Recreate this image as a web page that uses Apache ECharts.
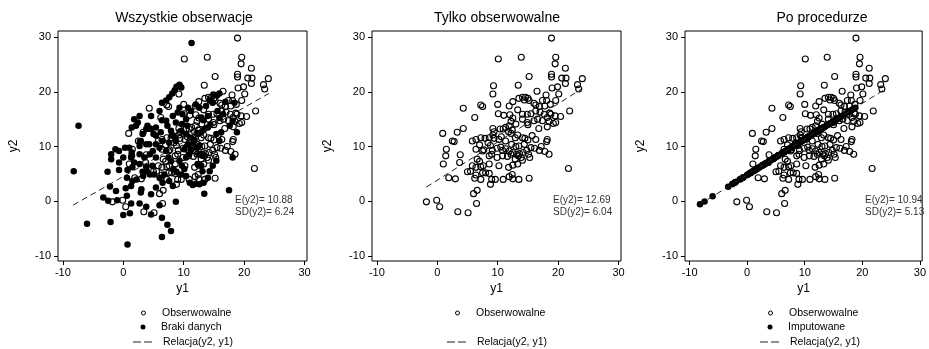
<!DOCTYPE html>
<html>
<head>
<meta charset="utf-8">
<script src="https://cdn.jsdelivr.net/npm/echarts@6/dist/echarts.min.js"></script>
<style>
  html, body { margin: 0; padding: 0; background: #fff; }
  #chart { width: 929px; height: 349px; }
</style>
</head>
<body>
<div id="chart"></div>
<script>
// tick labels
const xTicks = [-10, 0, 10, 20, 30]
const yTicks = [-10, 0, 10, 20, 30]

const titles = ['Wszystkie obserwacje', 'Tylko obserwowalne', 'Po procedurze']
const stats = [
  ['E(y2)= 10.88', 'SD(y2)= 6.24'],
  ['E(y2)= 12.69', 'SD(y2)= 6.04'],
  ['E(y2)= 10.94', 'SD(y2)= 5.13']
]

// obserwowalne (y1, y2)
const obsX = [18.9, 10.1, 13.9, 19.6, 19.5, 21.2, 15.2, 18.9, 18.9, 20.6, 21.3, 21.2, 24.0, 23.2, 23.4, 19.9, 19.0, 9.3, 13.4, 16.5,
  20.1, 18.0, 9.2, 12.5, 13.5, 14.1, 14.6, 15.0, 14.4, 15.2, 17.4, 18.1, 19.6, 17.8, 18.7, 10.0, 11.9, 16.9, 16.3, 7.5,
  7.2, 16.0, 4.3, 6.2, 10.1, 11.0, 13.3, 14.1, 14.9, 15.5, 16.3, 17.0, 17.7, 18.8, 18.2, 19.5, 20.4, 17.4, 19.6, 18.5,
  14.1, 14.9, 12.5, 12.2, 13.0, 11.9, 11.3, 16.0, 16.6, 18.2, 4.3, 15.0, 0.9, 3.3, 2.5, 2.8, 1.5, 1.4, 3.8, 3.7,
  1.0, 1.9, 3.0, 9.2, 9.4, 9.2, 10.4, 10.9, 11.8, 12.4, 12.2, 13.3, 12.9, 8.6, 9.4, 10.2, 7.9, 7.2, 5.8, 6.4,
  8.4, 11.3, 14.1, 14.5, 15.0, 15.7, 16.3, 14.4, 13.5, 15.5, 16.1, 18.2, 18.1, 17.2, 12.3, 13.0, 11.3, 9.9, 10.5, 8.8,
  7.7, 7.0, 6.4, 7.5, 9.1, 10.8, 11.9, 12.5, 13.1, 13.6, 14.2, 14.8, 16.9, 17.8, 6.6, 7.0, 5.8, 6.4, 7.2, 8.6,
  9.9, 9.0, 10.8, 11.6, 12.2, 12.9, 13.4, 13.9, 14.1, 15.1, 15.3, 13.3, 12.5, 11.8, 10.2, 8.6, 7.6, 8.6, 5.0, 5.5,
  6.4, 7.5, 8.0, 6.2, 7.2, 9.0, 9.6, 10.9, 11.9, 12.4, 12.5, 13.5, 15.2, 21.7, 8.8, 6.0, 6.6, -1.8, -0.1, 0.4,
  3.4, 5.1, 6.5, 18.5, 21.9, 18.6, 19.2, 16.8, 12.0, 10.6]
const obsY = [29.8, 26.0, 26.3, 26.3, 25.1, 24.3, 22.8, 23.2, 22.7, 22.5, 22.5, 21.5, 22.4, 21.3, 20.5, 20.9, 20.7, 21.1, 21.2, 20.1,
  19.6, 19.4, 19.6, 18.2, 18.8, 19.0, 19.0, 18.8, 18.5, 18.4, 18.4, 18.4, 18.4, 17.4, 17.7, 17.7, 17.4, 17.3, 17.6, 17.3,
  17.6, 17.9, 17.0, 15.3, 16.0, 15.7, 16.7, 15.9, 15.9, 16.0, 16.5, 16.3, 15.9, 15.9, 15.3, 15.6, 15.5, 14.7, 14.4, 14.6,
  15.0, 14.4, 15.2, 14.6, 14.1, 13.8, 13.5, 14.7, 15.0, 13.6, 13.3, 14.0, 12.4, 12.6, 11.0, 10.9, 9.5, 8.3, 8.5, 7.1,
  6.8, 4.3, 4.1, 13.3, 12.7, 12.1, 13.2, 13.2, 12.7, 13.0, 12.4, 12.1, 11.6, 11.6, 11.5, 11.3, 11.5, 11.6, 11.0, 11.3,
  10.7, 11.0, 11.6, 11.5, 11.2, 12.0, 11.3, 10.4, 10.1, 9.8, 9.7, 11.3, 10.9, 10.0, 10.4, 10.0, 9.6, 9.7, 9.9, 10.2,
  9.4, 10.3, 9.5, 9.2, 9.3, 9.3, 9.2, 8.9, 8.6, 8.7, 8.9, 9.3, 9.3, 9.1, 7.7, 7.3, 6.5, 6.2, 6.3, 8.3,
  8.0, 8.6, 8.3, 8.2, 8.6, 7.7, 8.3, 8.0, 7.5, 8.6, 8.0, 6.8, 6.6, 6.2, 6.5, 6.8, 6.5, 5.1, 5.4, 5.5,
  4.8, 5.2, 5.2, 4.2, 4.0, 4.0, 4.0, 4.0, 4.5, 4.9, 4.1, 4.0, 4.2, 6.0, 3.1, 1.4, 2.0, -0.1, 0.2, -1.0,
  -1.9, -2.1, -0.4, 8.6, 16.5, 16.1, 14.2, 13.3, 15.8, 11.8]

// braki danych (y1, y2 prawdziwe)
const misX = [11.3, -7.4, -8.2, -6.0, -2.1, 0.7, 6.4, 7.3, 7.9, 6.4, 8.7, 6.0, 4.6, 3.8, 2.7, 0.0, 1.1, 1.3, 0.6, 0.4,
  -3.3, -2.5, -1.0, -2.2, -2.6, -2.0, -1.3, -2.0, -0.7, 0.0, -0.7, -0.7, 0.7, 0.6, 0.3, 1.0, 1.4, 1.8, 2.4, 2.7,
  1.4, 2.1, 2.9, 3.8, 1.8, 2.7, 1.5, 1.5, 2.2, 1.3, 3.0, 2.9, 4.6, 3.9, 4.4, 3.3, 3.2, 3.8, 4.0, 4.6,
  5.4, 4.6, 5.0, 5.4, 6.2, 6.5, 5.4, 6.0, 4.9, 6.0, 6.4, 7.1, 7.6, 8.1, 8.5, 8.8, 9.3, 9.6, 7.1, 6.4,
  7.3, 7.9, 8.3, 8.7, 7.6, 7.1, 7.5, 7.9, 8.3, 8.8, 9.6, 10.4, 11.0, 11.5, 12.0, 13.4, 17.5, 12.2, 12.6, 13.1,
  12.3, 12.9, 13.4, 14.0, 14.4, 12.9, 13.3, 14.0, 12.0, 12.6, 13.7, 14.3, 14.8, 15.5, 15.9, 14.9, 15.6, 16.5, 15.9, 16.9,
  18.4, 15.4, 14.8, 14.3, 14.0, 13.3, 12.6, 10.4, 10.9, 10.1, 10.7, 11.2, 11.6, 11.2, 10.4, 9.6, 9.7, 10.4, 9.8, 9.3,
  9.0, 10.7, 11.2, 8.2, 8.7, 9.3, 9.7, 10.1, 12.3, 12.9, 13.1, 15.4, 15.9, 16.2, 17.6, 18.1, 18.8, 18.1, 5.4, 4.8,
  5.1, 6.0, 6.8, 7.6, 8.2, 6.5, 5.4, 1.3, -1.2, 3.2, 3.8, 2.7, 4.3, 4.4, 3.5, 2.7, 11.8, 12.6, 10.6, 8.0]
const misY = [28.9, 13.8, 5.5, -4.1, -3.8, -7.9, -6.5, -4.3, -5.4, -3.0, -0.1, -0.7, -2.4, -1.0, -0.4, -2.5, -2.2, -0.4, 1.0, 2.4,
  0.7, 0.1, 0.2, 2.7, 5.4, 8.6, 9.5, 7.7, 9.2, 8.0, 7.1, 5.7, 5.7, 4.3, 9.8, 9.8, 8.9, 15.0, 14.4, 15.6,
  13.5, 13.8, 11.0, 10.4, 7.1, 6.8, 6.2, 3.7, 4.0, 2.8, 2.2, 1.6, 1.3, 5.5, 4.9, 4.6, 5.4, 6.3, 13.8, 13.2,
  13.5, 15.6, 12.3, 12.0, 12.6, 11.0, 10.4, 9.8, 9.2, 16.5, 18.0, 18.4, 19.0, 19.7, 20.3, 20.9, 21.3, 20.8, 14.7, 14.8,
  13.8, 12.9, 12.0, 11.0, 10.7, 9.2, 8.0, 7.3, 5.9, 5.4, 4.9, 4.6, 3.4, 3.0, 3.2, 1.4, 2.0, 9.8, 8.6, 8.3,
  12.3, 12.6, 13.2, 13.5, 14.0, 15.3, 14.8, 15.6, 17.7, 17.1, 17.4, 18.4, 18.0, 19.3, 19.7, 19.5, 16.5, 15.9, 15.2, 18.2,
  18.0, 7.4, 6.5, 5.5, 4.3, 3.4, 3.1, 8.0, 8.6, 9.5, 10.4, 9.5, 10.7, 11.6, 12.3, 12.9, 14.1, 15.0, 15.9, 17.1,
  16.2, 17.1, 16.5, 15.6, 14.4, 7.4, 6.5, 5.9, 6.8, 6.5, 5.5, 12.3, 11.0, 12.6, 13.8, 14.7, 12.6, 8.0, 8.0, 6.5,
  4.9, 4.3, 4.9, 3.7, 2.8, 3.4, 2.5, 8.0, 1.9, 12.3, 13.2, 10.1, 10.4, 8.6, 8.0, 8.6, 11.2, 10.2, 13.8, 12.0]

// Relacja(y2, y1): końce linii dopasowania w każdym panelu
const fitX = [[-8.3, 24.1], [-1.8, 24.0], [-8.3, 24.0]]
const fitY = [[-0.7, 19.7], [2.6, 20.6], [-0.6, 20.5]]

// imputacja: wartość z linii dopasowania (panel 3) dla y1 braków
const impY = misX.map(x => fitY[2][0] + (x - fitX[2][0]) * (fitY[2][1] - fitY[2][0]) / (fitX[2][1] - fitX[2][0]))

const toPairs = (xs, ys) => xs.map((x, i) => [x, ys[i]])

const FONT = 'Liberation Sans, Arial, sans-serif'
const gridLefts = [58, 372, 685]
const gridWidths = [249, 249, 251]
const titleCenters = [184, 497, 822]
const statLefts = [235, 553, 865]

const chart = echarts.init(document.getElementById('chart'))

const hollow = {
  type: 'scatter',
  symbol: 'circle',
  symbolSize: 6,
  itemStyle: { color: 'rgba(0,0,0,0)', borderColor: '#000', borderWidth: 1.1, opacity: 1 },
  emphasis: { disabled: true },
  silent: true
}
const filled = {
  type: 'scatter',
  symbol: 'circle',
  symbolSize: 6.5,
  itemStyle: { color: '#000', opacity: 1 },
  emphasis: { disabled: true },
  silent: true
}
const fitLine = {
  type: 'line',
  name: 'Relacja(y2, y1)',
  symbol: 'none',
  color: '#222',
  itemStyle: { color: '#222' },
  lineStyle: { color: '#222', width: 1, type: [6, 4] },
  emphasis: { disabled: true },
  silent: true
}

const grids = gridLefts.map((left, i) => ({
  left: left,
  top: 31,
  width: gridWidths[i],
  height: 230,
  show: true,
  borderColor: '#000',
  borderWidth: 1,
  backgroundColor: '#fff'
}))

const xAxes = gridLefts.map((_, i) => ({
  type: 'value',
  gridIndex: i,
  min: -10.8,
  max: 30.4,
  name: 'y1',
  nameLocation: 'middle',
  nameGap: 22,
  nameTextStyle: { fontFamily: FONT, fontSize: 12, color: '#000' },
  axisLine: { show: false, onZero: false },
  splitLine: { show: false },
  axisTick: { show: true, length: 4, customValues: xTicks, lineStyle: { color: '#000' } },
  axisLabel: { customValues: xTicks, margin: 6, fontFamily: FONT, fontSize: 11, color: '#000' }
}))

const yAxes = gridLefts.map((_, i) => ({
  type: 'value',
  gridIndex: i,
  min: -10.9,
  max: 31.1,
  name: 'y2',
  nameLocation: 'middle',
  nameGap: 38,
  nameTextStyle: { fontFamily: FONT, fontSize: 12, color: '#000' },
  axisLine: { show: false, onZero: false },
  splitLine: { show: false },
  axisTick: { show: true, length: 4, customValues: yTicks, lineStyle: { color: '#000' } },
  axisLabel: { customValues: yTicks, margin: 7, fontFamily: FONT, fontSize: 11, color: '#000' }
}))

const series = [
  Object.assign({}, hollow, { name: 'Obserwowalne', xAxisIndex: 0, yAxisIndex: 0, data: toPairs(obsX, obsY) }),
  Object.assign({}, filled, { name: 'Braki danych', xAxisIndex: 0, yAxisIndex: 0, data: toPairs(misX, misY) }),
  Object.assign({}, fitLine, { xAxisIndex: 0, yAxisIndex: 0, data: toPairs(fitX[0], fitY[0]) }),
  Object.assign({}, hollow, { name: 'Obserwowalne', xAxisIndex: 1, yAxisIndex: 1, data: toPairs(obsX, obsY) }),
  Object.assign({}, fitLine, { xAxisIndex: 1, yAxisIndex: 1, data: toPairs(fitX[1], fitY[1]) }),
  Object.assign({}, hollow, { name: 'Obserwowalne', xAxisIndex: 2, yAxisIndex: 2, data: toPairs(obsX, obsY) }),
  Object.assign({}, filled, { name: 'Imputowane', xAxisIndex: 2, yAxisIndex: 2, data: toPairs(misX, impY) }),
  Object.assign({}, fitLine, { xAxisIndex: 2, yAxisIndex: 2, data: toPairs(fitX[2], fitY[2]) })
]

// legenda: jeden wiersz = jeden komponent
const dashIcon = 'path://M0,0H8V1H0Z M11,0H19V1H11Z'
const legendRows = [
  [0, 'Obserwowalne', 313], [0, 'Braki danych', 327], [0, 'Relacja(y2, y1)', 342],
  [1, 'Obserwowalne', 313], [1, 'Relacja(y2, y1)', 342],
  [2, 'Obserwowalne', 313], [2, 'Imputowane', 327], [2, 'Relacja(y2, y1)', 342]
]
const legends = legendRows.map(([p, name, cy]) => {
  const isLine = name.startsWith('Relacja')
  const isHollow = name === 'Obserwowalne'
  const size = isHollow ? 4 : 5
  return {
    data: [isLine ? { name: name, icon: dashIcon } : name],
    left: gridLefts[p] + (isLine ? 75 : 85 - size / 2),
    top: cy - 6,
    padding: 0,
    selectedMode: false,
    itemWidth: isLine ? 19 : size,
    itemHeight: isLine ? 1 : size,
    itemStyle: isHollow ? { borderWidth: 1 } : {},
    textStyle: { fontFamily: FONT, fontSize: 10.5, color: '#000', lineHeight: 12, padding: isLine ? [0, 0, 0, 6] : [0, 0, 0, 15.5 - size] }
  }
})

const titleComps = titles.map((t, i) => ({
  text: t,
  left: titleCenters[i],
  top: 11,
  textAlign: 'center',
  padding: 0,
  textStyle: { fontFamily: FONT, fontSize: 14, fontWeight: 'normal', color: '#000' }
})).concat(stats.map((s, i) => ({
  text: s.join('\n'),
  left: statLefts[i],
  top: 194,
  padding: 0,
  textStyle: { fontFamily: FONT, fontSize: 10, fontWeight: 'normal', color: '#333', lineHeight: 12 }
})))

chart.setOption({
  animation: false,
  backgroundColor: '#fff',
  title: titleComps,
  legend: legends,
  grid: grids,
  xAxis: xAxes,
  yAxis: yAxes,
  series: series
})
</script>
</body>
</html>
